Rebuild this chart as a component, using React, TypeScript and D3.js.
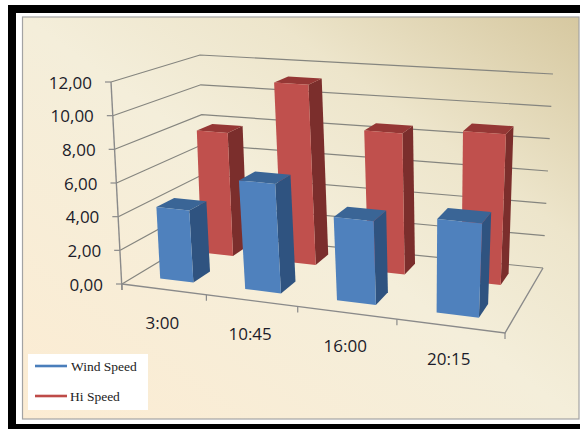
import React from "react";
import * as d3 from "d3";

const categories = ["3:00", "10:45", "16:00", "20:15"];
const seriesNames = ["Wind Speed", "Hi Speed"];
const windSpeed = [4.3, 6.4, 4.8, 5.3];
const hiSpeed = [7.8, 11.2, 8.6, 9.0];
const yTicks = [0, 2, 4, 6, 8, 10, 12];

type Pt = [number, number];

const WIDTH = 580;
const HEIGHT = 429;

// Corners of the 3D box: front-left, front-right, back-right, back-left.
const floorQuad: Pt[] = [[122, 284], [505, 333], [543, 268], [205, 234]];
const ceilQuad: Pt[] = [[111, 82], [518, 114], [553, 74], [200, 55]];

// Unit square to quadrilateral homography.
function squareToQuad(q: Pt[]) {
  const [[x0, y0], [x1, y1], [x2, y2], [x3, y3]] = q;
  const dx1 = x1 - x2, dx2 = x3 - x2, sx = x0 - x1 + x2 - x3;
  const dy1 = y1 - y2, dy2 = y3 - y2, sy = y0 - y1 + y2 - y3;
  const det = dx1 * dy2 - dx2 * dy1;
  const g = (sx * dy2 - dx2 * sy) / det;
  const h = (dx1 * sy - sx * dy1) / det;
  const a = x1 - x0 + g * x1, b = x3 - x0 + h * x3;
  const d = y1 - y0 + g * y1, e = y3 - y0 + h * y3;
  return (u: number, v: number): Pt => {
    const w = g * u + h * v + 1;
    return [(a * u + b * v + x0) / w, (d * u + e * v + y0) / w];
  };
}

const floorMap = squareToQuad(floorQuad);
const ceilMap = squareToQuad(ceilQuad);
const yScale = d3.scaleLinear().domain([0, 12]).range([0, 1]);
const xBand = d3.scaleBand<string>().domain(categories).range([0, 1]);
const zBand = d3.scaleBand<string>().domain(seriesNames).range([0, 1]);

function project(u: number, v: number, value: number): Pt {
  const t = yScale(value);
  const a = floorMap(u, v);
  const b = ceilMap(u, v);
  return [a[0] + (b[0] - a[0]) * t, a[1] + (b[1] - a[1]) * t];
}

const poly = (pts: Pt[]) => pts.map((p) => `${p[0].toFixed(1)},${p[1].toFixed(1)}`).join(" ");

const BAR_FILL = 0.4;

const palette = [
  { front: "#4f81bd", side: "#2f5380", top: "#3a6596", legend: "#4a7ebb" },
  { front: "#c0504d", side: "#7b2e2c", top: "#953735", legend: "#be4b48" },
];

function Bar({ cat, series, value, color }: { cat: string; series: string; value: number; color: typeof palette[0] }) {
  const uc = xBand(cat)! + xBand.bandwidth() / 2;
  const vc = zBand(series)! + zBand.bandwidth() / 2;
  const du = (xBand.bandwidth() * BAR_FILL) / 2;
  const dv = (zBand.bandwidth() * BAR_FILL) / 2;
  const u0 = uc - du, u1 = uc + du, v0 = vc - dv, v1 = vc + dv;
  return (
    <g>
      <polygon points={poly([project(u1, v0, 0), project(u1, v1, 0), project(u1, v1, value), project(u1, v0, value)])} fill={color.side} />
      <polygon points={poly([project(u0, v0, value), project(u1, v0, value), project(u1, v1, value), project(u0, v1, value)])} fill={color.top} />
      <polygon points={poly([project(u0, v0, 0), project(u1, v0, 0), project(u1, v0, value), project(u0, v0, value)])} fill={color.front} />
    </g>
  );
}

export default function App() {
  const axisColor = "#8a8a8a";
  const gridColor = "#85857f";
  return (
    <svg
      width={WIDTH}
      height={HEIGHT}
      style={{ position: "absolute", left: 0, top: 0, background: "#fff" }}
    >
      <defs>
        <linearGradient id="panel" x1="0" y1="1" x2="1" y2="0">
          <stop offset="0" stopColor="#fcecd3" />
          <stop offset="0.5" stopColor="#f4eeda" />
          <stop offset="0.72" stopColor="#ede5cb" />
          <stop offset="1" stopColor="#d6c8a0" />
        </linearGradient>
      </defs>

      {/* Outer black frame and chart panel */}
      <rect x={8} y={5} width={590} height={440} fill="#000" />
      <rect x={16} y={13} width={564} height={411} fill="#fff" />
      <rect x={22.5} y={17} width={556.5} height={402} fill="url(#panel)" stroke="#a3a3a3" strokeWidth={1.2} />

      {/* Wall grid lines */}
      {yTicks.map((t) => (
        <polyline
          key={t}
          points={poly([project(0, 0, t), project(0, 1, t), project(1, 1, t)])}
          fill="none"
          stroke={gridColor}
          strokeWidth={1.2}
        />
      ))}

      {/* Floor outline */}
      <polyline
        points={poly([project(0, 0, 0), project(1, 0, 0), project(1, 1, 0)])}
        fill="none"
        stroke={axisColor}
        strokeWidth={1.4}
      />

      {/* Value axis */}
      <line
        x1={project(0, 0, 12)[0]}
        y1={project(0, 0, 12)[1]}
        x2={project(0, 0, 0)[0]}
        y2={project(0, 0, 0)[1] + 6}
        stroke={axisColor}
        strokeWidth={1.4}
      />
      {yTicks.map((t) => {
        const [x, y] = project(0, 0, t);
        return (
          <g key={t}>
            <line x1={x - 6} x2={x} y1={y} y2={y} stroke={axisColor} strokeWidth={1.2} />
            <text
              x={x - 19}
              y={y + 2}
              textAnchor="end"
              dominantBaseline="middle"
              fontFamily="'Open Sans', sans-serif"
              fontSize={17}
              fill="#1c1c2a"
            >
              {d3.format(".2f")(t).replace(".", ",")}
            </text>
          </g>
        );
      })}

      {/* Category axis ticks and labels */}
      {[...categories.map((c) => xBand(c)!), 1].map((u) => {
        const [x, y] = project(u, 0, 0);
        return <line key={u} x1={x} x2={x} y1={y} y2={y + 6} stroke={axisColor} strokeWidth={1.2} />;
      })}
      {categories.map((c) => {
        const [x, y] = project(xBand(c)! + xBand.bandwidth() / 2, 0, 0);
        return (
          <text
            key={c}
            x={x - 1}
            y={y + 35}
            textAnchor="middle"
            dominantBaseline="middle"
            fontFamily="'Open Sans', sans-serif"
            fontSize={17}
            fill="#1c1c2a"
          >
            {c}
          </text>
        );
      })}

      {/* Bars, back row first */}
      {categories.map((c, i) => (
        <Bar key={c} cat={c} series={seriesNames[1]} value={hiSpeed[i]} color={palette[1]} />
      ))}
      {categories.map((c, i) => (
        <Bar key={c} cat={c} series={seriesNames[0]} value={windSpeed[i]} color={palette[0]} />
      ))}

      {/* Legend */}
      <rect x={28} y={354} width={120} height={56} fill="#fff" />
      {seriesNames.map((name, i) => {
        const y = 366 + i * 30;
        return (
          <g key={name}>
            <line x1={35} x2={67} y1={y} y2={y} stroke={palette[i].legend} strokeWidth={2.6} />
            <text
              x={i === 0 ? 71 : 70}
              y={y + 2}
              dominantBaseline="middle"
              fontFamily="'Liberation Serif', serif"
              fontSize={13.5}
              fill="#222"
            >
              {name}
            </text>
          </g>
        );
      })}
    </svg>
  );
}
